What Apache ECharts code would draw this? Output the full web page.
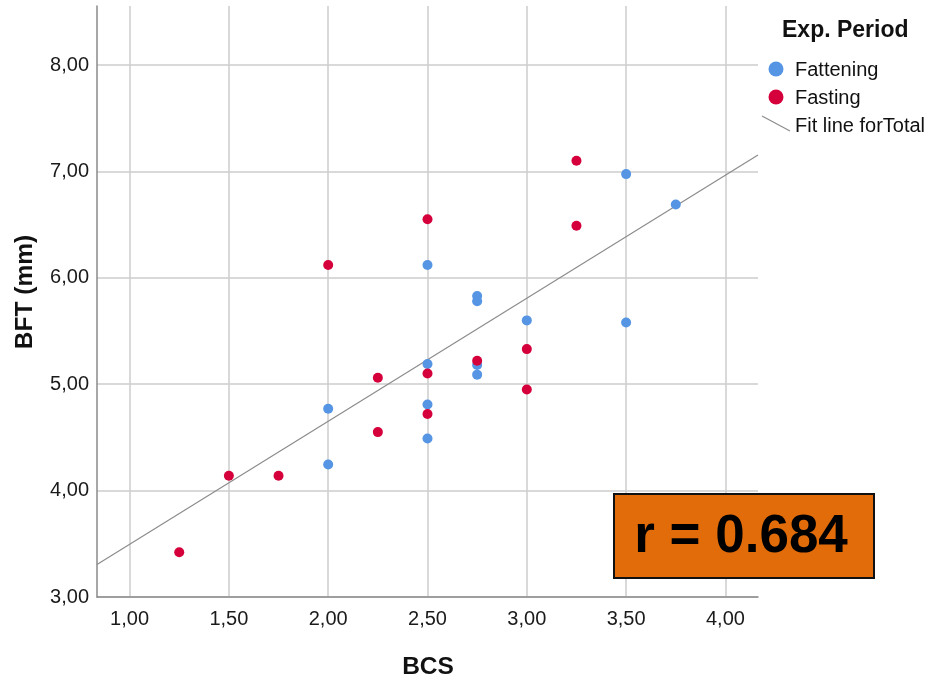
<!DOCTYPE html>
<html><head><meta charset="utf-8">
<script src="https://cdn.jsdelivr.net/npm/echarts@6/dist/echarts.min.js"></script>
<style>html,body{margin:0;padding:0;background:#fff}#c{width:935px;height:683px}</style>
</head><body><div id="c"></div>
<script>
// ---- data ----
const fatteningBCS = [2.00, 2.00, 2.50, 2.50, 2.50, 2.50, 2.75, 2.75, 2.75, 2.75, 3.00, 3.50, 3.50, 3.75];
const fatteningBFT = [4.77, 4.245, 6.12, 5.19, 4.81, 4.49, 5.83, 5.78, 5.18, 5.09, 5.60, 6.975, 5.58, 6.69];
const fastingBCS = [1.25, 1.50, 1.75, 2.00, 2.25, 2.25, 2.50, 2.50, 2.50, 2.75, 3.00, 3.00, 3.25, 3.25];
const fastingBFT = [3.42, 4.14, 4.14, 6.12, 5.06, 4.55, 6.55, 5.10, 4.72, 5.22, 5.33, 4.95, 7.10, 6.49];
const fitBCS = [0.836, 4.164];
const fitBFT = [3.305, 7.154];
const xTicks = [1.00, 1.50, 2.00, 2.50, 3.00, 3.50, 4.00];
const yTicks = [3.00, 4.00, 5.00, 6.00, 7.00, 8.00];
const xTitle = 'BCS';
const yTitle = 'BFT (mm)';
const legendTitle = 'Exp. Period';
const seriesNames = ['Fattening', 'Fasting', 'Fit line forTotal'];
const rText = 'r = 0.684';

const zip = (a, b) => a.map((v, i) => [v, b[i]]);
const fmt = v => v.toFixed(2).replace('.', ',');
const FONT = '"Liberation Sans", Arial, sans-serif';
const BLUE = '#5595e4', RED = '#d5003b';

const chart = echarts.init(document.getElementById('c'), null, {renderer: 'canvas'});
chart.setOption({
  backgroundColor: '#fff',
  animation: false,
  grid: {left: 97, top: 6, right: 177, bottom: 86, containLabel: false, outerBoundsMode: 'none'},
  xAxis: {
    type: 'value', min: 0.836, max: 4.164,
    axisLine: {show: true, onZero: false, lineStyle: {color: '#8a8a8a', width: 1.5}},
    axisTick: {show: false, customValues: xTicks},
    axisLabel: {customValues: xTicks, formatter: fmt, margin: 12, fontFamily: FONT, fontSize: 20, color: '#1a1a1a'},
    splitLine: {show: true, lineStyle: {color: '#cdcdcd', width: 1.5}}
  },
  yAxis: {
    type: 'value', min: 3, max: 8.555,
    axisLine: {show: true, onZero: false, lineStyle: {color: '#8a8a8a', width: 1.5}},
    axisTick: {show: false, customValues: yTicks},
    axisLabel: {customValues: yTicks, formatter: fmt, margin: 8, fontFamily: FONT, fontSize: 20, color: '#1a1a1a'},
    splitLine: {show: true, lineStyle: {color: '#cdcdcd', width: 1.5}}
  },
  series: [
    {name: seriesNames[2], type: 'line', data: zip(fitBCS, fitBFT), symbol: 'none',
     lineStyle: {color: '#8c8c8c', width: 1.2}, z: 3},
    {name: seriesNames[0], type: 'scatter', data: zip(fatteningBCS, fatteningBFT), symbolSize: 10,
     itemStyle: {color: BLUE, opacity: 1}, z: 4},
    {name: seriesNames[1], type: 'scatter', data: zip(fastingBCS, fastingBFT), symbolSize: 10,
     itemStyle: {color: RED, opacity: 1}, z: 5}
  ],
  graphic: [
    {type: 'text', x: 25, y: 292, rotation: Math.PI / 2,
     style: {text: yTitle, font: 'bold 24.5px ' + FONT, fill: '#111', align: 'center', verticalAlign: 'middle'}},
    {type: 'text', x: 428, y: 667,
     style: {text: xTitle, font: 'bold 24.5px ' + FONT, fill: '#111', align: 'center', verticalAlign: 'middle'}},
    {type: 'text', left: 782, top: 19, style: {text: legendTitle, font: 'bold 23px ' + FONT, fill: '#111'}},
    {type: 'circle', shape: {cx: 776, cy: 69, r: 7.5}, style: {fill: BLUE}},
    {type: 'text', left: 795, top: 60, style: {text: seriesNames[0], font: '20px ' + FONT, fill: '#111'}},
    {type: 'circle', shape: {cx: 776, cy: 97, r: 7.5}, style: {fill: RED}},
    {type: 'text', left: 795, top: 88, style: {text: seriesNames[1], font: '20px ' + FONT, fill: '#111'}},
    {type: 'line', shape: {x1: 762, y1: 116, x2: 790, y2: 131}, style: {stroke: '#8c8c8c', lineWidth: 1.2}},
    {type: 'text', left: 795, top: 116, style: {text: seriesNames[2], font: '20px ' + FONT, fill: '#111'}},
    {type: 'rect', shape: {x: 614, y: 494, width: 260, height: 84}, style: {fill: '#e36c0a', stroke: '#111', lineWidth: 2}, z: 10},
    {type: 'text', x: 741, y: 537, z: 11, style: {text: rText, font: 'bold 53px ' + FONT, fill: '#000', align: 'center', verticalAlign: 'middle'}}
  ]
});
</script></body></html>
